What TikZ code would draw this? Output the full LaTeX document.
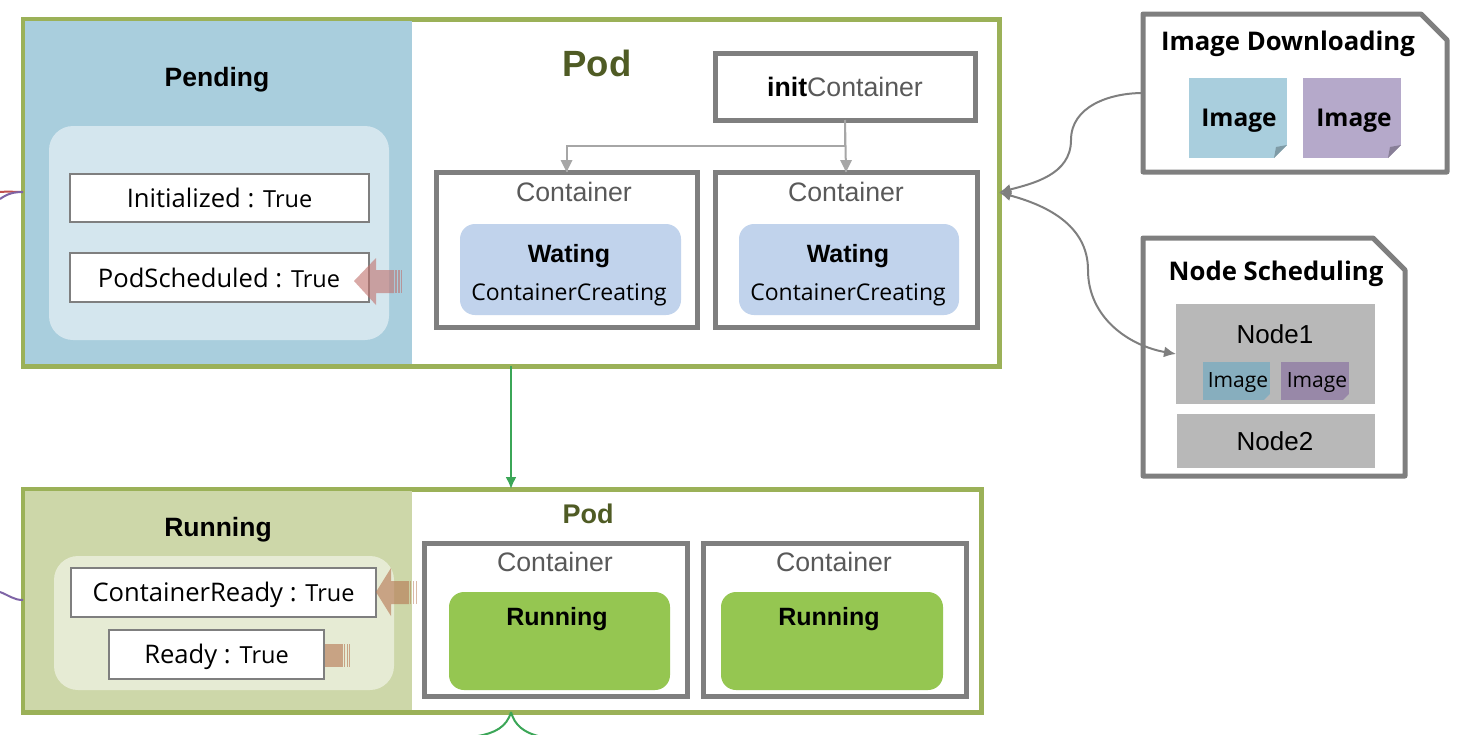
\documentclass[tikz,border=0pt]{standalone}
\usepackage{fontspec}
\setmainfont{Liberation Sans}
\newfontfamily\uifont{Open Sans}
\usetikzlibrary{calc,arrows.meta}

\definecolor{podgreen}{HTML}{9BB158}
\definecolor{podtitle}{HTML}{4F5B24}
\definecolor{boxgray}{HTML}{7F7F7F}
\definecolor{labelgray}{HTML}{595959}
\definecolor{linkgray}{HTML}{A6A6A6}
\definecolor{flowgreen}{HTML}{3BA657}
\definecolor{paleblue}{HTML}{A9CEDD}
\definecolor{palepurple}{HTML}{B5A9CA}
\definecolor{waitblue}{HTML}{C1D3EC}
\definecolor{runolive}{HTML}{CDD7A9}
\definecolor{rungreen}{HTML}{95C651}
\definecolor{nodegray}{HTML}{B8B8B8}
\definecolor{markred}{HTML}{C0706C}
\definecolor{markbrown}{HTML}{B5744F}
\definecolor{linered}{HTML}{C0504D}
\definecolor{lineviolet}{HTML}{7E64A6}
\definecolor{dimblue}{HTML}{87AEBE}
\definecolor{dimpurple}{HTML}{9888A8}

\newcommand{\truetxt}{{\fontsize{23.5}{28}\selectfont True}}

\tikzset{
    every node/.style={inner sep=0pt,outer sep=0pt},
    podbox/.style={draw=podgreen,line width=5pt},
    phase/.style={fill=#1},
    panel/.style={fill=#1,rounded corners=24pt},
    cond/.style={draw=boxgray,line width=1.6pt,fill=white},
    contbox/.style={draw=boxgray,line width=5pt,fill=white},
    state/.style={fill=#1,rounded corners=15pt},
    sheet/.style={fill=#1},
    hostbox/.style={fill=nodegray},
    note/.style={draw=boxgray,line width=5pt,line join=round},
    flow/.style={draw=flowgreen,line width=2pt},
    link/.style={draw=linkgray,line width=2pt},
    curve/.style={draw=boxgray,line width=2pt},
    outer/.style={line width=2pt},
    tit/.style={font=\fontsize{25}{28}\selectfont\bfseries,yshift=-2pt},
    bigtit/.style={font=\fontsize{26.5}{28}\selectfont\bfseries,yshift=-2pt},
    ctitle/.style={font=\fontsize{26.7}{28}\selectfont,text=labelgray},
    cname/.style={font=\uifont\fontsize{23}{28}\selectfont,yshift=-3pt},
    condtxt/.style={font=\uifont\fontsize{25.6}{28}\selectfont},
    notetit/.style={font=\uifont\fontsize{25.7}{28}\selectfont\bfseries,yshift=-2pt},
    imgtxt/.style={font=\uifont\fontsize{24.5}{28}\selectfont\bfseries,yshift=-2pt},
    small/.style={font=\uifont\fontsize{21}{24}\selectfont,yshift=-2pt},
    host/.style={font=\fontsize{26}{28}\selectfont},
}

\begin{document}
\begin{tikzpicture}[x=1pt,y=-1pt,>={Latex[length=12pt,width=11pt]}]
    \useasboundingbox (0,0) rectangle (1466,734);

    % outer curves cut by the page edge
    \coordinate (redEnd) at (0,192);
    \coordinate (violetEnd) at (0,199);
    \coordinate (violetLow) at (0,592);
    \coordinate (greenL) at (478,736);
    \coordinate (greenR) at (538,736);

    % pending pod
    \node [podbox, fill=white, minimum width=976, minimum height=347] (podA) at (511,192.5) {};
    \node [phase=paleblue, minimum width=387, minimum height=343] (pending) at (218.5,192.5) {};
    \node [panel=paleblue!50!white, minimum width=340, minimum height=214] (panelA) at (219,233) {};
    \node [bigtit] (pendingT) at (217,78) {Pending};
    \node [cond, minimum width=299, minimum height=48] (initd) at (219.5,198) {};
    \node [condtxt] at (initd) {Initialized : \truetxt};
    \node [cond, minimum width=299, minimum height=49] (podsch) at (219.5,277.5) {};
    \node [condtxt] at (219,277.5) {PodScheduled : \truetxt};
    \fill [markred, opacity=.6] (354,281) -- (376,258) -- (376,270) -- (394,270) -- (394,293) -- (376,293) -- (376,305) -- cycle;
    \foreach \xs in {395,398,400.5}
        \fill [markred, opacity=.6] (\xs,270) rectangle ++(1.6,23);

    \node [font=\fontsize{36.5}{40}\selectfont\bfseries, text=podtitle] (podAT) at (597,63) {Pod};
    \node [contbox, minimum width=260, minimum height=67] (initc) at (845,86.5) {};
    \node [font=\fontsize{26.7}{30}\selectfont, text=labelgray] at (initc) {\textcolor{black}{\bfseries init}Container};

    \node [contbox, minimum width=261, minimum height=155] (contA) at (566.5,249.5) {};
    \node [ctitle] at (574,192) {Container};
    \node [state=waitblue, minimum width=221, minimum height=91] (waitA) at (570.5,269.5) {};
    \node [tit] at (569,254) {Wating};
    \node [cname] at (569,292) {ContainerCreating};

    \node [contbox, minimum width=262, minimum height=155] (contB) at (846,249.5) {};
    \node [ctitle] at (846,192) {Container};
    \node [state=waitblue, minimum width=220, minimum height=91] (waitB) at (849,269.5) {};
    \node [tit] at (848,254) {Wating};
    \node [cname] at (848,292) {ContainerCreating};

    \draw [link] (initc.south) -- (contB.north);
    \draw [link] (initc.south) |- ($(contA.north)+(0,-26)$) -- (contA.north);
    \fill [linkgray] (contA.north) -- +(-6,-12) -- +(6,-12) -- cycle;
    \fill [linkgray] (contB.north) -- +(-6,-12) -- +(6,-12) -- cycle;

    % running pod
    \node [podbox, fill=white, minimum width=958, minimum height=223] (podB) at (502,600.5) {};
    \node [phase=runolive, minimum width=387, minimum height=219] (running) at (218.5,600.5) {};
    \node [panel=runolive!50!white, minimum width=340, minimum height=134] (panelB) at (224,623) {};
    \node [bigtit] (runningT) at (218,528) {Running};
    \node [cond, minimum width=305, minimum height=49] (contrdy) at (223.5,592.5) {};
    \node [condtxt, yshift=-2pt] at (contrdy) {ContainerReady : \truetxt};
    \node [cond, minimum width=215, minimum height=49] (rdy) at (216.5,654.5) {};
    \node [condtxt, yshift=-2.5pt] at (rdy) {Ready : \truetxt};
    \fill [markbrown, opacity=.6] (376,592) -- (391,568) -- (391,581) -- (409,581) -- (409,604) -- (391,604) -- (391,616) -- cycle;
    \foreach \xs in {410,413,415.5}
        \fill [markbrown, opacity=.5] (\xs,581) rectangle ++(1.4,23);
    \fill [markbrown, opacity=.6] (325,644) rectangle (343,667);
    \foreach \xs in {344,347,349}
        \fill [markbrown, opacity=.6] (\xs,644) rectangle ++(1.4,23);

    \node [font=\fontsize{27}{32}\selectfont\bfseries, text=podtitle] (podBT) at (588,514) {Pod};
    \node [contbox, minimum width=263, minimum height=153] (contC) at (555.5,619.5) {};
    \node [ctitle] at (555,562) {Container};
    \node [state=rungreen, minimum width=221, minimum height=98] (runC) at (559.5,641) {};
    \node [tit] at (557,617) {Running};
    \node [contbox, minimum width=263, minimum height=153] (contD) at (834.5,619.5) {};
    \node [ctitle] at (834,562) {Container};
    \node [state=rungreen, minimum width=222, minimum height=98] (runD) at (832,641) {};
    \node [tit] at (829,617) {Running};

    \draw [flow,->] (podA.south) -- (podA.south |- podB.north);
    \draw [flow] (podA.south |- podB.south) to [out=-105,in=10] (greenL);
    \draw [flow] (podA.south |- podB.south) to [out=-75,in=165] (greenR);

    \draw [draw=linered, outer] (23,192) to [out=180,in=5] (redEnd);
    \draw [draw=lineviolet, outer] (23,192) to [out=180,in=35] (violetEnd);
    \draw [draw=lineviolet, outer] (23,600) to [out=180,in=-20] (violetLow);

    % image downloading
    \node [minimum width=304, minimum height=158] (imgBox) at (1295,93) {};
    \draw [note] (imgBox.north west) -- ($(imgBox.north east)+(-26,0)$) -- ($(imgBox.north east)+(0,26)$) -- (imgBox.south east) -- (imgBox.south west) -- cycle;
    \node [notetit] (imgT) at (1288,42) {Image Downloading};
    \node [sheet=paleblue, minimum width=98, minimum height=80] (imgA) at (1238,118) {};
    \fill [white] (imgA.south east) -- ++(0,-13) -- ++(-13,13) -- cycle;
    \fill [paleblue!75!black] (imgA.south east) ++(0,-13) -- ++(-13,13) -- ++(2,-11) -- cycle;
    \node [imgtxt] at (1239,119) {Image};
    \node [sheet=palepurple, minimum width=98, minimum height=80] (imgB) at (1352,118) {};
    \fill [white] (imgB.south east) -- ++(0,-13) -- ++(-13,13) -- cycle;
    \fill [palepurple!75!black] (imgB.south east) ++(0,-13) -- ++(-13,13) -- ++(2,-11) -- cycle;
    \node [imgtxt] at (1354,119) {Image};

    % node scheduling
    \node [minimum width=262, minimum height=238] (schBox) at (1274,357) {};
    \draw [note] (schBox.north west) -- ($(schBox.north east)+(-32,0)$) -- ($(schBox.north east)+(0,32)$) -- (schBox.south east) -- (schBox.south west) -- cycle;
    \node [notetit] (schT) at (1276,272) {Node Scheduling};
    \node [hostbox, minimum width=199, minimum height=100] (hostA) at (1275.5,354) {};
    \node [host] at (1275,334) {Node1};
    \node [sheet=dimblue, minimum width=67, minimum height=38] (smallA) at (1236.5,381) {};
    \fill [nodegray] (smallA.south east) -- ++(0,-6) -- ++(-6,6) -- cycle;
    \node [small] at (1238,381) {Image};
    \node [sheet=dimpurple, minimum width=68, minimum height=38] (smallB) at (1315,381) {};
    \fill [nodegray] (smallB.south east) -- ++(0,-6) -- ++(-6,6) -- cycle;
    \node [small] at (1317,381) {Image};
    \node [hostbox, minimum width=198, minimum height=54] (hostB) at (1276,441) {};
    \node [host] at (1275,441) {Node2};

    \draw [curve,->] (imgBox.west) to [out=180,in=90] (1071,140) to [out=-90,in=15] (podA.east);
    \draw [curve,<->] (podA.east) to [out=-15,in=90] (1088,270) to [out=-90,in=170] (hostA.west);
\end{tikzpicture}
\end{document}
